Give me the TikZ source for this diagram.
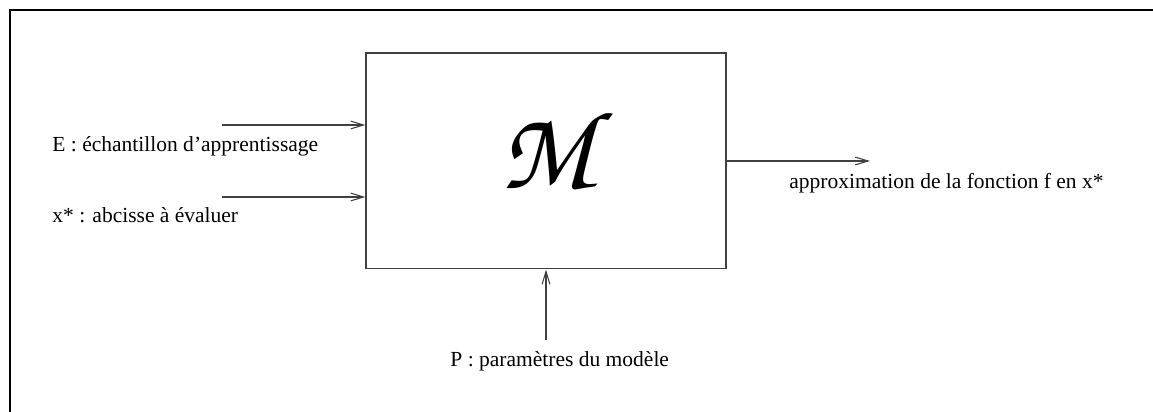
\documentclass[tikz,border=0pt]{standalone}
\usepackage{fontspec}
\setmainfont{Liberation Serif}
\usetikzlibrary{arrows.meta,positioning}
\newcommand{\modelsym}{{\usefont{OT1}{pzc}{mb}{it}\fontsize{52}{52}\selectfont M}}

\begin{document}
\begin{tikzpicture}[x=0.465pt,y=-0.465pt,>={Straight Barb[length=6pt,width=3.6pt]}]
  \tikzset{
    modelbox/.style={draw=black!75,line width=0.5pt,minimum width=167.4pt,minimum height=100.4pt,inner sep=0pt},
    flow/.style={->,black!75,line width=0.5pt},
    lbl/.style={anchor=base west,inner sep=0pt,font=\fontsize{10}{12}\selectfont},
    frameline/.style={line width=1.3pt,black}
  }
  \useasboundingbox (0,0) rectangle (1153,412);
  % cadre
  \draw[frameline] (10,412) -- (10,10) -- (1153,10);
  % le modele
  \node[modelbox] (model) at (546,161) {};
  \node[inner sep=0pt] (msym) at (547,149) {\modelsym};
  % entrees
  \coordinate (ein) at (222,125);
  \coordinate (xin) at (222,197);
  \coordinate (pin) at (546,340);
  \coordinate (fout) at (870,161);
  \draw[flow] (ein) -- (ein -| model.west);
  \draw[flow] (xin) -- (xin -| model.west);
  \draw[flow] (pin) -- (pin |- model.south);
  \draw[flow] (fout -| model.east) -- (fout);
  % textes
  \node[lbl] (elbl) at (52,152) {E : échantillon d’apprentissage};
  \node[lbl] (xlbl) at (52,223) {x* : abcisse à évaluer};
  \node[lbl] (plbl) at (450,367) {P : paramètres du modèle};
  \node[lbl] (flbl) at (789,189) {approximation de la fonction f en x*};
\end{tikzpicture}
\end{document}
